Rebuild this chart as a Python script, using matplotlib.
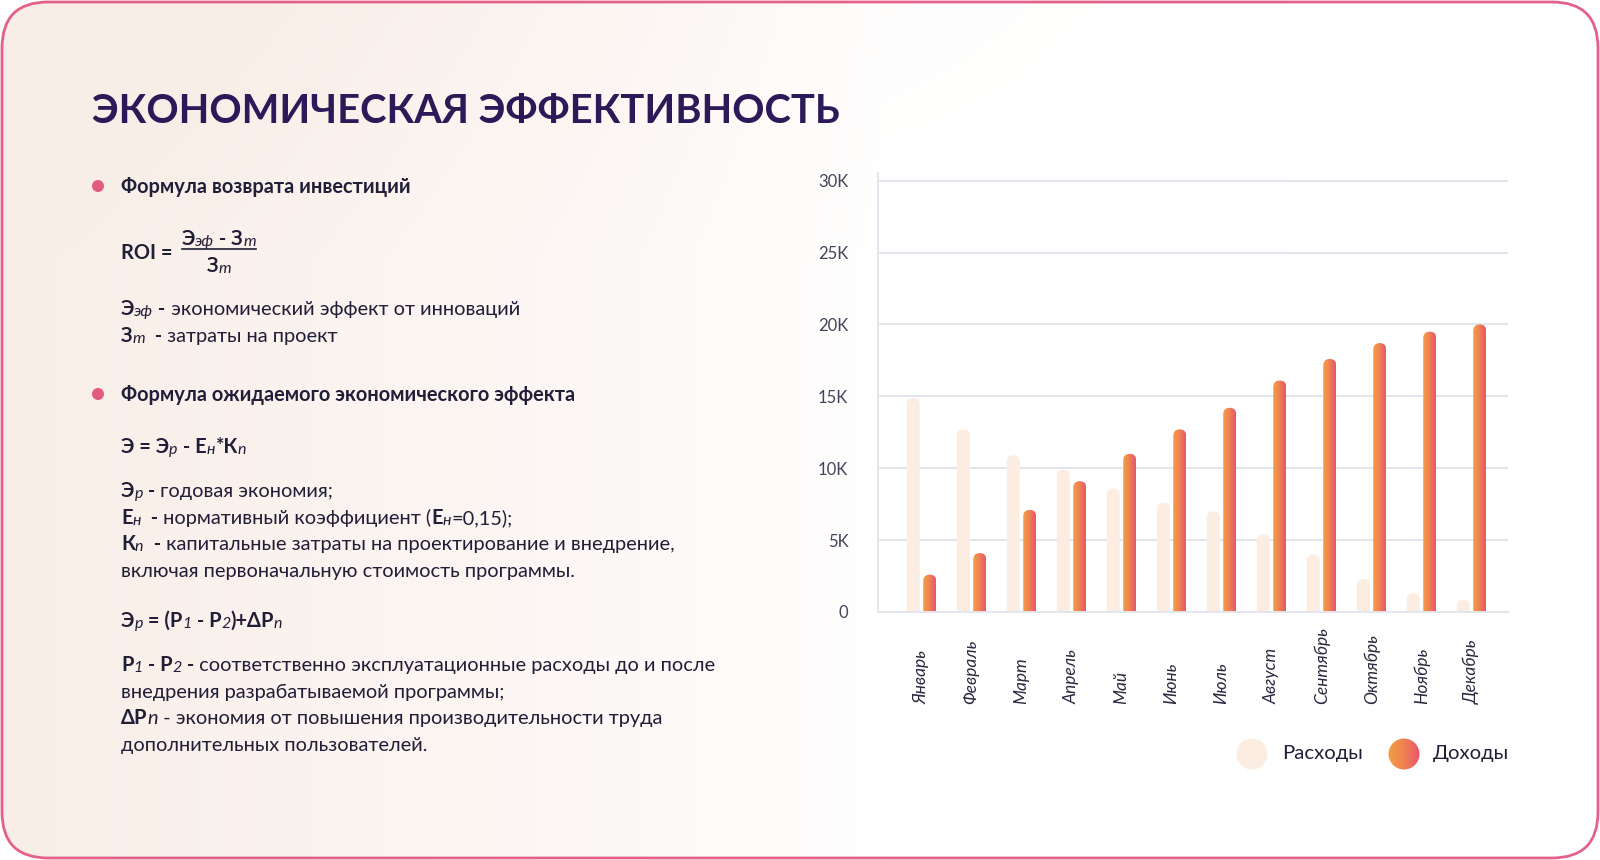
import numpy as np
import matplotlib.pyplot as plt
from matplotlib.patches import FancyBboxPatch, Circle
from matplotlib.colors import LinearSegmentedColormap

# данные (тыс.)
months = ['Январь', 'Февраль', 'Март', 'Апрель', 'Май', 'Июнь', 'Июль',
          'Август', 'Сентябрь', 'Октябрь', 'Ноябрь', 'Декабрь']
expenses = [14.9, 12.7, 10.9, 9.9, 8.6, 7.6, 7.0, 5.4, 4.0, 2.3, 1.3, 0.85]
income = [2.6, 4.1, 7.1, 9.1, 11.0, 12.7, 14.2, 16.1, 17.6, 18.7, 19.5, 20.0]
y_ticks = [0, 5, 10, 15, 20, 25, 30]
y_labels = ['0', '5K', '10K', '15K', '20K', '25K', '30K']
series = ['Расходы', 'Доходы']

W, H = 1600, 860
INK = '#211E38'
TITLE = '#2B1A57'
PINK = '#E45B80'
PEACH = '#FCEDE2'
grad_cmap = LinearSegmentedColormap.from_list('inc', ['#F39E46', '#EF8152', '#E8566F'])

plt.rcParams['font.family'] = ['Lato', 'DejaVu Sans']
fig = plt.figure(figsize=(16, 8.6), dpi=100, facecolor='white')

# фон в пикселях
bg = fig.add_axes([0, 0, 1, 1])
bg.set_xlim(0, W)
bg.set_ylim(H, 0)
bg.axis('off')

frame = FancyBboxPatch((2, 2), W - 4, H - 4, boxstyle='round,pad=0,rounding_size=46',
                       fc='none', ec='#E4628A', lw=2, zorder=5)
bg.add_patch(frame)
xx = np.linspace(0, 1, 400)[None, :]
yy = np.linspace(0, 1, 215)[:, None]
w = np.clip(1 - xx / 0.55, 0, 1) ** 0.8 + 0.3 * np.clip(1 - yy / 0.3, 0, 1) * np.clip(1 - xx / 0.8, 0, 1)
w = np.clip(w, 0, 1) * 0.9
tint = np.array([248, 236, 229]) / 255
img = 1 - w[..., None] * (1 - tint)
im = bg.imshow(img, extent=(0, W, H, 0), aspect='auto', interpolation='bicubic', zorder=0)
im.set_clip_path(frame)

rend = fig.canvas.get_renderer()


def props(kind, size):
    kw = dict(size=size, color=INK, va='baseline')
    dy = 0
    if kind == 'b':
        kw['weight'] = 'bold'
    elif kind == 's':
        kw.update(size=size * 0.8, style='italic')
        dy = 1
    elif kind == 'i':
        kw['style'] = 'italic'
    return kw, dy


def text_width(s, kw):
    a = bg.text(0, 0, s + '.', **kw)
    b = bg.text(0, 0, '.', **kw)
    wd = a.get_window_extent(rend).width - b.get_window_extent(rend).width
    a.remove()
    b.remove()
    return wd


def line(x, y, parts, size=14.4, draw=True):
    x0 = x
    for s, kind in parts:
        kw, dy = props(kind, size)
        if draw:
            bg.text(x, y + dy, s, **kw)
        x += text_width(s, kw)
    return x - x0


# заголовок
bg.text(92, 123, 'ЭКОНОМИЧЕСКАЯ ЭФФЕКТИВНОСТЬ', size=28.7, weight='bold', color=TITLE, va='baseline')

# блок 1
bg.add_patch(Circle((98, 186), 6, fc=PINK, lw=0))
line(121, 193, [('Формула возврата инвестиций', 'b')])
line(121, 259, [('ROI =', 'b')])
num = [('Э', 'b'), ('эф', 's'), (' - З', 'b'), ('т', 's')]
den = [('З', 'b'), ('т', 's')]
nw = line(182, 245, num)
bg.plot([182, 182 + nw], [249, 249], color=INK, lw=1.2)
dw = line(0, 0, den, draw=False)
line(182 + nw / 2 - dw / 2, 272, den)
line(121, 315, [('Э', 'b'), ('эф', 's'), (' -', 'b'), (' экономический эффект от инноваций', 'n')])
line(121, 342, [('З', 'b'), ('т', 's'), ('  -', 'b'), (' затраты на проект', 'n')])

# блок 2
bg.add_patch(Circle((98, 394), 6, fc=PINK, lw=0))
line(121, 401, [('Формула ожидаемого экономического эффекта', 'b')])
line(121, 453, [('Э = Э', 'b'), ('р', 's'), (' - Е', 'b'), ('н', 's'), ('*К', 'b'), ('п', 's')])
line(121, 497, [('Э', 'b'), ('р', 's'), (' -', 'b'), (' годовая экономия;', 'n')])
line(121, 524, [('Е', 'b'), ('н', 's'), ('  -', 'b'), (' нормативный коэффициент (', 'n'),
                ('Е', 'b'), ('н', 's'), ('=0,15);', 'n')])
line(121, 550, [('К', 'b'), ('п', 's'), ('  -', 'b'),
                (' капитальные затраты на проектирование и внедрение,', 'n')])
line(121, 577, [('включая первоначальную стоимость программы.', 'n')])
line(121, 627, [('Э', 'b'), ('р', 's'), (' = (Р', 'b'), ('1', 's'), (' - Р', 'b'), ('2', 's'),
                (')+ΔР', 'b'), ('п', 's')])
line(121, 671, [('Р', 'b'), ('1', 's'), (' - Р', 'b'), ('2', 's'), (' -', 'b'),
                (' соответственно эксплуатационные расходы до и после', 'n')])
line(121, 698, [('внедрения разрабатываемой программы;', 'n')])
line(121, 724, [('ΔР', 'b'), ('п', 'i'), (' - экономия от повышения производительности труда', 'n')])
line(121, 751, [('дополнительных пользователей.', 'n')])

# график
left, right, top, bottom = 877.5, 1508, 173, 612
ax = fig.add_axes([left / W, 1 - bottom / H, (right - left) / W, (bottom - top) / H])
ax.patch.set_alpha(0)
xlo, xhi = -0.88, 11.73
ylo, yhi = 0, 30.53
ax.set_xlim(xlo, xhi)
ax.set_ylim(ylo, yhi)
ax.set_yticks(y_ticks, y_labels)
ax.grid(axis='y', color='#E4E4EC', lw=1.4)
ax.set_axisbelow(True)
for s in ['top', 'right']:
    ax.spines[s].set_visible(False)
for s in ['left', 'bottom']:
    ax.spines[s].set_color('#E4E4EC')
    ax.spines[s].set_linewidth(1.4)
ax.tick_params(axis='y', length=0, pad=21, labelsize=12, labelcolor='#44445A')
x = np.arange(len(months))
ax.set_xticks(x, months, rotation=90, fontstyle='italic', va='bottom', ha='center')
ax.tick_params(axis='x', length=0, pad=66, labelsize=12.5, labelcolor='#2A2840')

bw, off = 0.26, 0.165
px_x = (right - left) / (xhi - xlo)
px_y = (bottom - top) / (yhi - ylo)
r_px = 6.5
grad = np.linspace(0, 1, 64).reshape(1, -1)


def round_bar(rect, face=None):
    x0, wd, h = rect.get_x(), rect.get_width(), rect.get_height()
    ry = r_px / px_y
    p = FancyBboxPatch((x0, -ry), wd, h + ry, boxstyle=f'round,pad=0,rounding_size={r_px / px_x}',
                       mutation_aspect=px_x / px_y, lw=0, fc=face if face else 'none', zorder=2)
    ax.add_patch(p)
    if face is None:
        g = ax.imshow(grad, extent=(x0, x0 + wd, -ry, h), cmap=grad_cmap, aspect='auto', zorder=2)
        g.set_clip_path(p)
    rect.remove()


for r in ax.bar(x - off, expenses, bw):
    round_bar(r, PEACH)
for r in ax.bar(x + off, income, bw):
    round_bar(r)
ax.set_xlim(xlo, xhi)
ax.set_ylim(ylo, yhi)

# легенда
bg.add_patch(Circle((1252, 754), 15.5, fc=PEACH, lw=0))
bg.text(1282, 754, series[0], size=14.6, color=INK, va='center')
c2 = Circle((1404, 754), 15.5, fc='none', lw=0)
bg.add_patch(c2)
g2 = bg.imshow(grad, extent=(1388, 1420, 770, 738), cmap=grad_cmap, aspect='auto', zorder=3)
g2.set_clip_path(c2)
bg.text(1433, 754, series[1], size=14.6, color=INK, va='center')
bg.set_xlim(0, W)
bg.set_ylim(H, 0)

fig.savefig('out.png', dpi=100)
